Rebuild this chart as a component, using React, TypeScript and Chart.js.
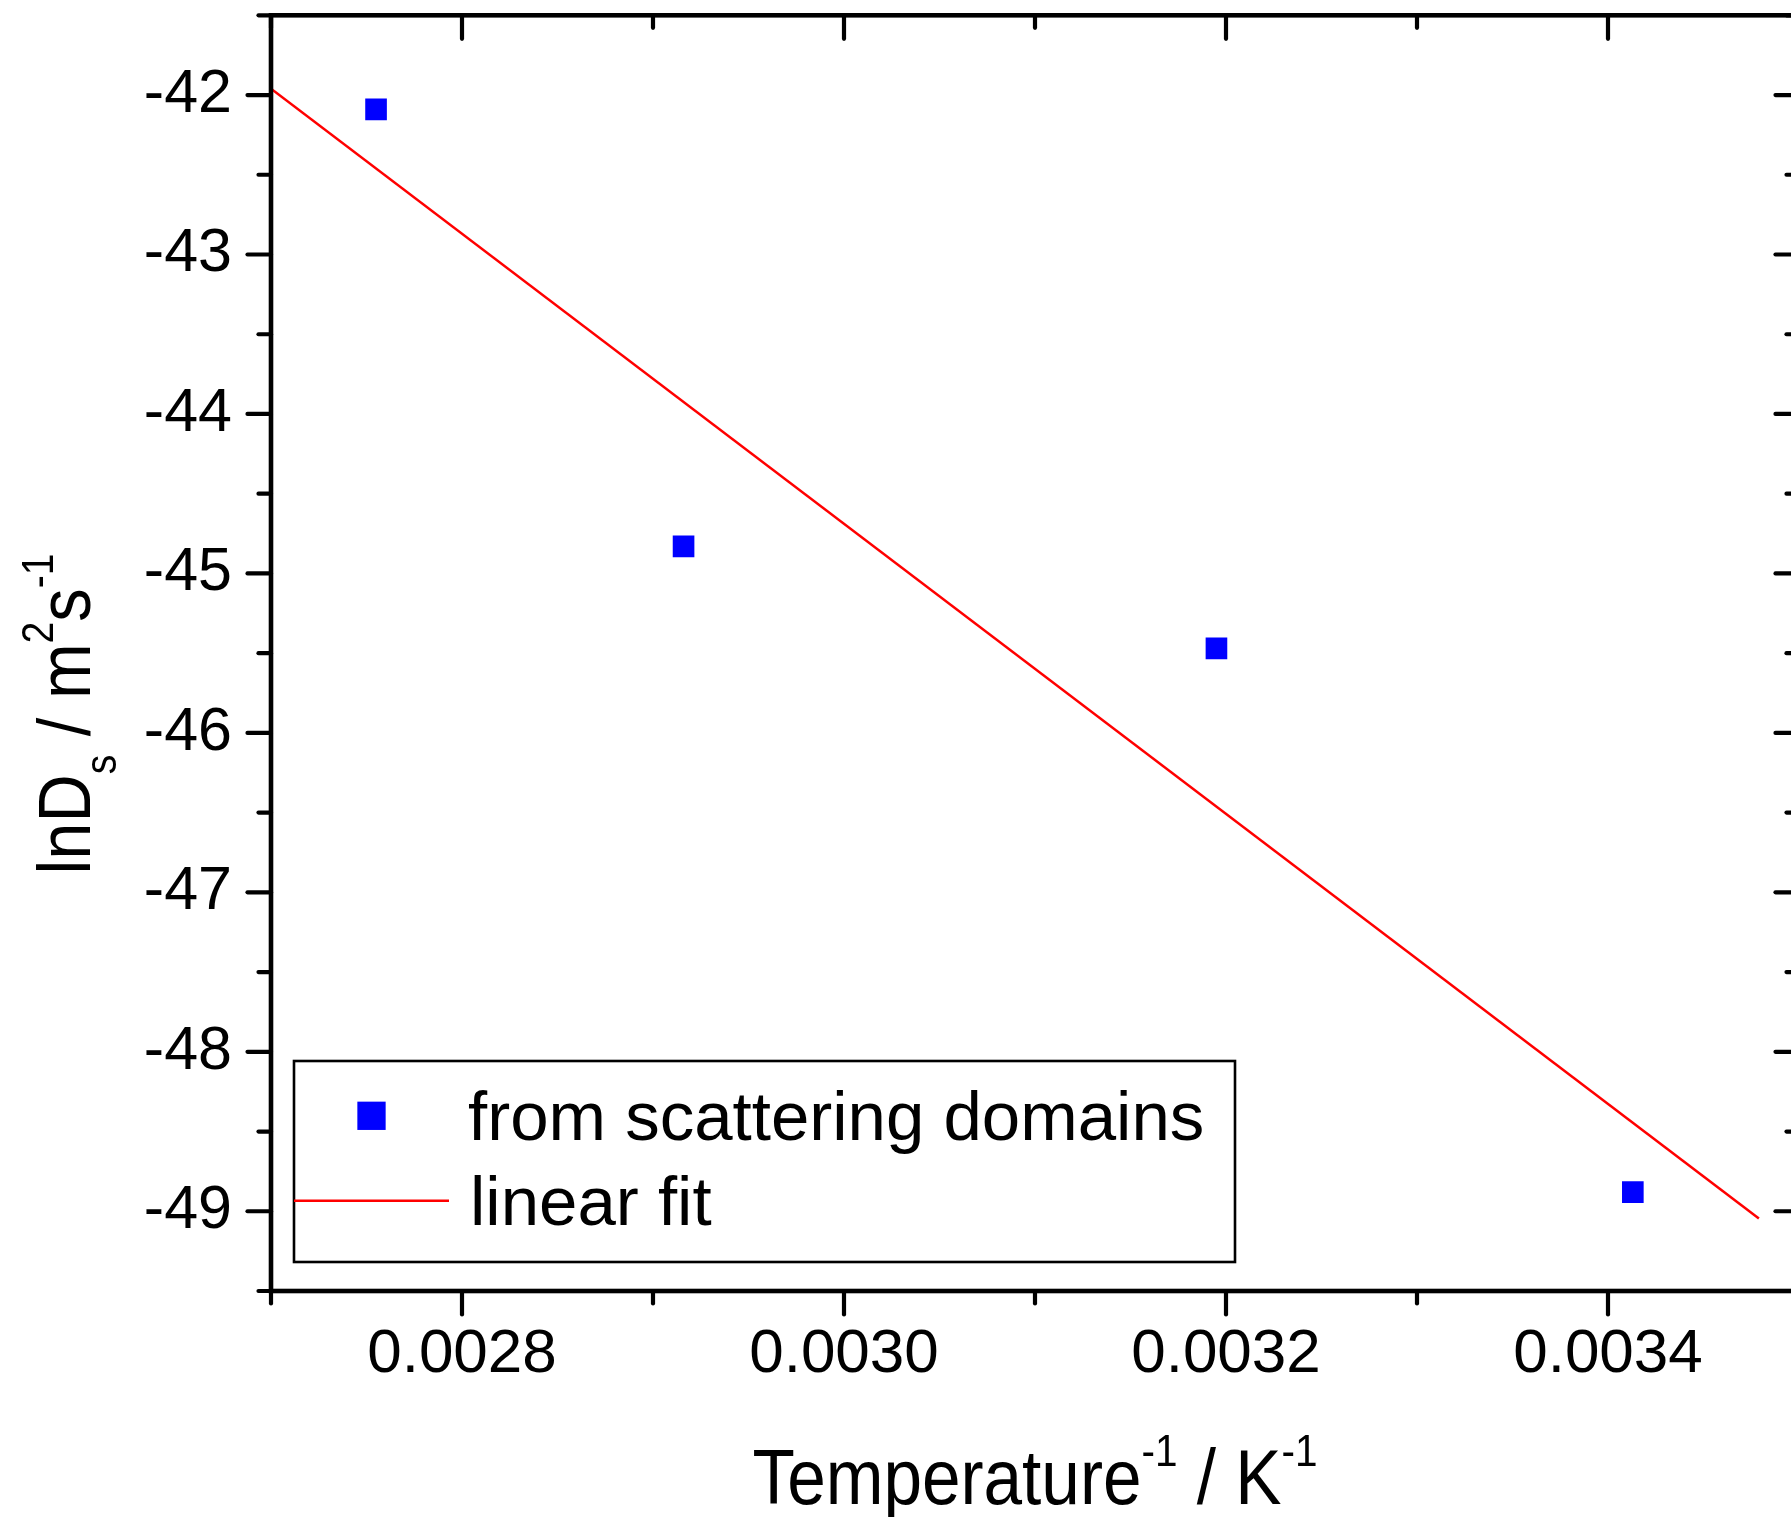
import React, { useEffect, useRef } from 'react';
import { Chart, registerables } from 'chart.js';

Chart.register(...registerables);

// ---- data ----
const xData = [0.002755, 0.002916, 0.003195, 0.003413];
const yData = [-42.09, -44.83, -45.47, -48.88];
const fitX = [0.0027, 0.003479];
const fitY = [-41.96, -49.045];
const xMajorTicks = [0.0028, 0.003, 0.0032, 0.0034];
const xMinorTicks = [0.0027, 0.0029, 0.0031, 0.0033, 0.0035];
const yMajorTicks = [-42, -43, -44, -45, -46, -47, -48, -49];
const yMinorTicks = [-41.5, -42.5, -43.5, -44.5, -45.5, -46.5, -47.5, -48.5, -49.5];
const xRange = [0.0027, 0.0035];
const yRange = [-49.5, -41.5];
const seriesLabels = ['from scattering domains', 'linear fit'];
const xTitleParts: [string, string][] = [['Temperature', 'n'], ['-1', 'sup'], [' / K', 'n'], ['-1', 'sup']];
const yTitleParts: [string, string][] = [['lnD', 'n'], ['s', 'sub'], [' / m', 'n'], ['2', 'sup'], ['s', 'n'], ['-1', 'sup']];

const FONT = '"Liberation Sans", Arial, Helvetica, sans-serif';

function drawRich(ctx: CanvasRenderingContext2D, parts: [string, string][], F: number, squeeze: number) {
  const small = Math.round(F * 0.58);
  const segs = parts.map(([t, k]) => {
    const size = k === 'n' ? F : small;
    ctx.font = `${size}px ${FONT}`;
    const w = ctx.measureText(t).width;
    const dy = k === 'sup' ? -F * 0.5 : k === 'sub' ? F * 0.34 : 0;
    return { t, size, w, dy };
  });
  const total = segs.reduce((s, g) => s + g.w, 0);
  ctx.scale(squeeze, 1);
  let x = -total / 2;
  ctx.textAlign = 'left';
  ctx.textBaseline = 'alphabetic';
  ctx.fillStyle = '#000';
  for (const g of segs) {
    ctx.font = `${g.size}px ${FONT}`;
    ctx.fillText(g.t, x, g.dy);
    x += g.w;
  }
}

const framePlugin = {
  id: 'frameTicks',
  afterDatasetsDraw(chart: any) {
    const { ctx, chartArea: a, scales } = chart;
    const xs = scales.x;
    const ys = scales.y;
    ctx.save();
    ctx.strokeStyle = '#000';
    ctx.lineWidth = 4.6;
    ctx.strokeRect(a.left, a.top, a.right - a.left, a.bottom - a.top);
    const MAJ = 23.5;
    const MIN = 12.5;
    ctx.lineWidth = 4.2;
    ctx.lineCap = 'round';
    const seg = (x1: number, y1: number, x2: number, y2: number) => {
      ctx.beginPath();
      ctx.moveTo(x1, y1);
      ctx.lineTo(x2, y2);
      ctx.stroke();
    };
    const xt = (v: number, L: number) => {
      const p = xs.getPixelForValue(v);
      seg(p, a.bottom, p, a.bottom + L);
      seg(p, a.top, p, a.top + L);
    };
    const yt = (v: number, L: number) => {
      const p = ys.getPixelForValue(v);
      seg(a.left - L, p, a.left, p);
      seg(a.right - L, p, a.right, p);
    };
    xMajorTicks.forEach((v) => xt(v, MAJ));
    xMinorTicks.forEach((v) => xt(v, MIN));
    yMajorTicks.forEach((v) => yt(v, MAJ));
    yMinorTicks.forEach((v) => yt(v, MIN));
    ctx.restore();
  },
};

const decorPlugin = {
  id: 'decor',
  afterDraw(chart: any) {
    const { ctx, chartArea: a } = chart;
    const ds = chart.data.datasets;
    // legend
    ctx.save();
    const bx = 294, by = 1061, bw = 941, bh = 201;
    ctx.fillStyle = '#fff';
    ctx.fillRect(bx, by, bw, bh);
    ctx.strokeStyle = '#000';
    ctx.lineWidth = 2.6;
    ctx.strokeRect(bx, by, bw, bh);
    ctx.fillStyle = ds[0].backgroundColor;
    const ms = 28.3;
    ctx.fillRect(371.5 - ms / 2, 1115.8 - ms / 2, ms, ms);
    ctx.strokeStyle = ds[1].borderColor;
    ctx.lineWidth = 2.5;
    ctx.beginPath();
    ctx.moveTo(bx, 1200.7);
    ctx.lineTo(449, 1200.7);
    ctx.stroke();
    ctx.fillStyle = '#000';
    ctx.font = `69px ${FONT}`;
    ctx.textAlign = 'left';
    ctx.textBaseline = 'alphabetic';
    ctx.fillText(ds[0].label, 468, 1140);
    ctx.fillText(ds[1].label, 470, 1225);
    ctx.restore();

    // x title
    ctx.save();
    ctx.translate((a.left + a.right) / 2, 1504);
    drawRich(ctx, xTitleParts, 77, 0.9);
    ctx.restore();

    // y title
    ctx.save();
    ctx.translate(90, 714);
    ctx.rotate(-Math.PI / 2);
    drawRich(ctx, yTitleParts, 75, 0.89);
    ctx.restore();
  },
};

export default function App() {
  const ref = useRef<HTMLCanvasElement | null>(null);
  useEffect(() => {
    if (!ref.current) return;
    Chart.defaults.font.family = FONT;
    Chart.defaults.color = '#000';
    const chart = new Chart(ref.current, {
      type: 'scatter',
      data: {
        datasets: [
          {
            label: seriesLabels[0],
            data: xData.map((x, i) => ({ x, y: yData[i] })),
            backgroundColor: '#0000ff',
            borderColor: '#0000ff',
            pointStyle: 'rect',
            pointRadius: 15.3,
            pointBorderWidth: 0,
            showLine: false,
          },
          {
            label: seriesLabels[1],
            data: fitX.map((x, i) => ({ x, y: fitY[i] })),
            borderColor: '#ff0000',
            backgroundColor: '#ff0000',
            borderWidth: 2.5,
            pointRadius: 0,
            showLine: true,
          },
        ],
      },
      options: {
        animation: false,
        responsive: false,
        devicePixelRatio: 1,
        layout: { padding: { top: 14, right: 31, left: 0, bottom: 0 } },
        plugins: { legend: { display: false }, tooltip: { enabled: false }, title: { display: false } },
        scales: {
          x: {
            type: 'linear',
            position: 'bottom',
            min: xRange[0],
            max: xRange[1],
            grid: { display: false, drawTicks: false },
            border: { display: false },
            afterBuildTicks: (axis: any) => {
              axis.ticks = xMajorTicks.map((value) => ({ value }));
            },
            afterFit: (axis: any) => {
              axis.height = 226;
              axis.paddingLeft = 0;
              axis.paddingRight = 0;
              axis.paddingTop = 0;
              axis.paddingBottom = 0;
            },
            ticks: {
              autoSkip: false,
              maxRotation: 0,
              padding: 27,
              color: '#000',
              font: { size: 62, family: FONT },
              callback: (v: any) => Number(v).toFixed(4),
            },
          },
          y: {
            type: 'linear',
            position: 'left',
            min: yRange[0],
            max: yRange[1],
            grid: { display: false, drawTicks: false },
            border: { display: false },
            afterBuildTicks: (axis: any) => {
              axis.ticks = yMajorTicks.map((value) => ({ value }));
            },
            afterFit: (axis: any) => {
              axis.width = 271;
              axis.paddingLeft = 0;
              axis.paddingRight = 0;
              axis.paddingTop = 0;
              axis.paddingBottom = 0;
            },
            ticks: {
              autoSkip: false,
              padding: 39,
              color: '#000',
              font: { size: 61, family: FONT },
              callback: (v: any) => String(v),
            },
          },
        },
      },
      plugins: [framePlugin, decorPlugin],
    } as any);
    return () => chart.destroy();
  }, []);
  return (
    <div style={{ position: 'absolute', left: 0, top: 0, width: 1791, height: 1517, overflow: 'hidden', background: '#fff' }}>
      <canvas ref={ref} width={1830} height={1517} style={{ width: 1830, height: 1517, display: 'block' }} />
    </div>
  );
}
